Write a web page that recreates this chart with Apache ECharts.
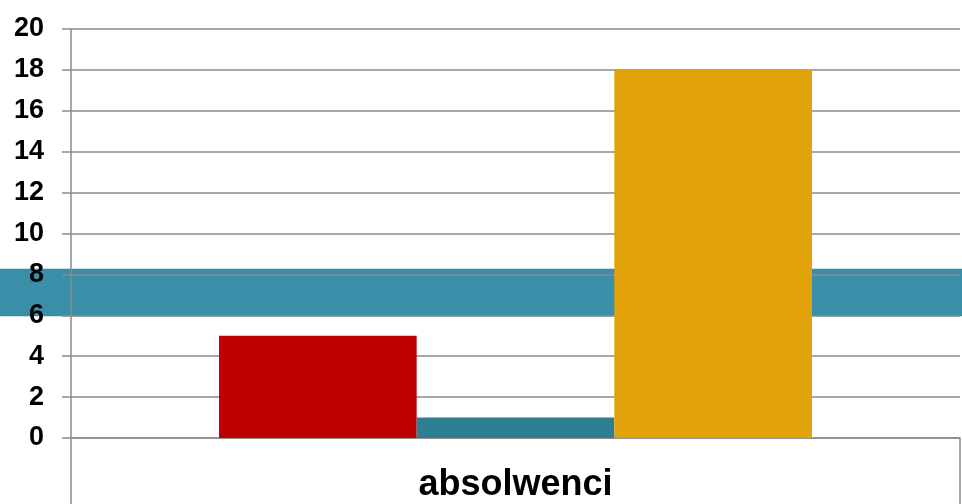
<!DOCTYPE html>
<html>
<head>
<meta charset="utf-8">
<script src="https://cdn.jsdelivr.net/npm/echarts@6/dist/echarts.min.js"></script>
<style>
html,body{margin:0;padding:0;background:#fff;}
#c{width:962px;height:504px;}
</style>
</head>
<body>
<div id="c"></div>
<script>
const categories = ['absolwenci'];
const seriesNames = ['Seria 1', 'Seria 2', 'Seria 3'];
const seriesValues = [[5], [1], [18]];
const yMin = 0, yMax = 20, yInterval = 2;
const bandRange = [5.95, 8.28];

const colors = ['#c00000', '#2e7f92', '#e1a309'];
const FONT = "'Liberation Sans', Arial, sans-serif";
const gridColor = '#8a8a8a';

const chart = echarts.init(document.getElementById('c'), null, {renderer: 'canvas'});

const series = seriesNames.map((n, i) => ({
  name: n,
  type: 'bar',
  data: seriesValues[i],
  itemStyle: {color: colors[i]},
  barGap: '0%',
  barCategoryGap: '33.3%',
  z: 2
}));

chart.setOption({
  animation: false,
  backgroundColor: '#fff',
  grid: {left: 71, right: 2, top: 29, bottom: 66, containLabel: false},
  xAxis: {
    type: 'category',
    data: categories,
    axisLine: {show: true, lineStyle: {color: gridColor, width: 1.5}},
    axisTick: {show: true, length: 66, interval: 0, alignWithLabel: false, lineStyle: {color: gridColor, width: 1.5}},
    axisLabel: {color: '#000', fontFamily: FONT, fontWeight: 'bold', fontSize: 36, margin: 29},
    splitLine: {show: false}
  },
  yAxis: {
    type: 'value',
    min: yMin, max: yMax, interval: yInterval,
    axisLine: {show: true, lineStyle: {color: gridColor, width: 1.5}},
    axisTick: {show: true, length: 9, lineStyle: {color: gridColor, width: 1.5}},
    axisLabel: {color: '#000', fontFamily: FONT, fontWeight: 'bold', fontSize: 27, margin: 27, padding: [5, 0, 0, 0]},
    splitLine: {show: true, lineStyle: {color: gridColor, width: 1.5}}
  },
  series: series
});

const yTop = chart.convertToPixel({yAxisIndex: 0}, bandRange[1]);
const yBot = chart.convertToPixel({yAxisIndex: 0}, bandRange[0]);
chart.setOption({
  graphic: [{
    type: 'rect',
    z: -10,
    silent: true,
    shape: {x: 0, y: yTop, width: 962, height: yBot - yTop},
    style: {fill: '#3a8fa8'}
  }]
});
</script>
</body>
</html>
